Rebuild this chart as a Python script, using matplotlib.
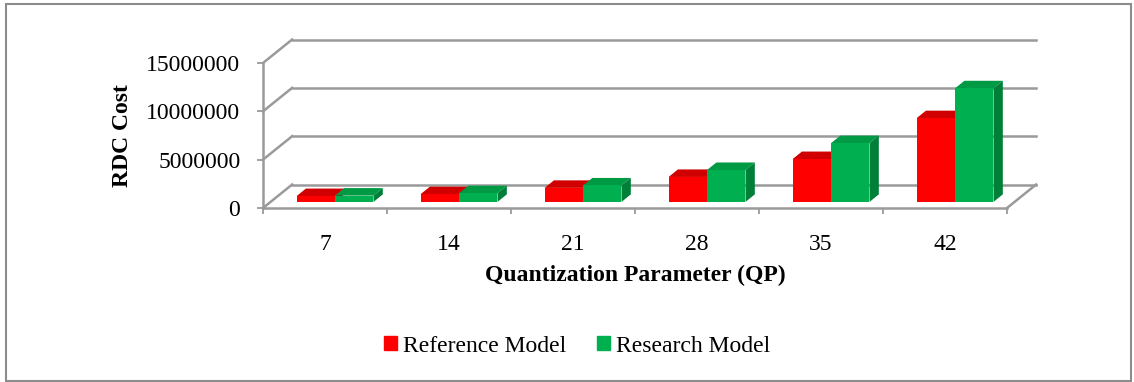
"""RDC cost per QP, drawn as an Excel-style 3D clustered column chart"""

import matplotlib.pyplot as plt
from matplotlib.patches import Patch, Polygon, Rectangle

plt.rcParams["font.family"] = ["Liberation Serif", "DejaVu Serif"]

qp_labels = ["7", "14", "21", "28", "35", "42"]
reference_model = [0.60e6, 0.80e6, 1.45e6, 2.58e6, 4.43e6, 8.66e6]
research_model = [0.65e6, 0.90e6, 1.70e6, 3.30e6, 6.08e6, 11.75e6]
y_ticks = [0, 5000000, 10000000, 15000000]

# oblique depth of the floor, in category units / value units
DX = 0.235
DY = 2.43e6
# bars sit between these fractions of the floor depth
F0, F1 = 0.26, 0.58
BAR_W = 0.31
PAIR_CENTER = 0.52

GRID = "#9a9a9a"
colors = {
    "front": ["#ff0000", "#00b050"],
    "top": ["#d00000", "#009a45"],
    "side": ["#b00000", "#007f38"],
}


def proj(x, v, f):
    """oblique projection of a point at depth fraction f"""
    return (x + f * DX, v + f * DY)


fig = plt.figure(figsize=(11.34, 3.82), dpi=100)
ax = fig.add_axes([0, 0, 1, 1])
# map data so the front floor edge runs 0..6 and the value axis 0..15M
ax.set_xlim(-263 / 124, (1134 - 263) / 124)
ax.set_ylim((208 - 382) / 9.667e-6, 208 / 9.667e-6)

# back wall gridlines and side wall diagonals
for v in y_ticks:
    bx, by = proj(0, v, 1)
    ex, ey = proj(6, v, 1)
    ax.plot([bx, ex], [by, ey], color=GRID, lw=1.8, zorder=1)
    ax.plot([0, bx], [v, by], color=GRID, lw=1.8, zorder=1)
# right edge of the floor
rx, ry = proj(6, 0, 1)
ax.plot([6, rx], [0, ry], color=GRID, lw=1.8, zorder=1)

# columns: top, side, then front face for each series
for s, vals in enumerate([reference_model, research_model]):
    lefts = [i + PAIR_CENTER - BAR_W + s * BAR_W for i in range(len(vals))]
    for x0, val in zip(lefts, vals):
        x1 = x0 + BAR_W
        top = [proj(x0, val, F0), proj(x1, val, F0), proj(x1, val, F1), proj(x0, val, F1)]
        side = [proj(x1, 0, F0), proj(x1, val, F0), proj(x1, val, F1), proj(x1, 0, F1)]
        ax.add_patch(Polygon(top, closed=True, facecolor=colors["top"][s],
                             edgecolor="none", zorder=3 + s))
        ax.add_patch(Polygon(side, closed=True, facecolor=colors["side"][s],
                             edgecolor="none", zorder=3 + s))
    ax.bar([x + F0 * DX for x in lefts], vals, width=BAR_W, bottom=F0 * DY,
           align="edge", color=colors["front"][s], zorder=3.5 + s)

# front axes
for side in ["top", "right"]:
    ax.spines[side].set_visible(False)
ax.spines["left"].set_position(("data", 0))
ax.spines["left"].set_bounds(0, 15e6)
ax.spines["bottom"].set_position(("data", 0))
ax.spines["bottom"].set_bounds(0, 6)
for side in ["left", "bottom"]:
    ax.spines[side].set_color(GRID)
    ax.spines[side].set_linewidth(1.8)

ax.set_yticks(y_ticks)
ax.set_yticklabels([str(t) for t in y_ticks])
ax.tick_params(axis="y", length=4.3, width=1.3, color=GRID, pad=12, labelsize=17)
ax.set_xticks(range(7))
ax.set_xticklabels([])
ax.set_xticks([i + 0.5 for i in range(6)], minor=True)
ax.set_xticklabels(qp_labels, minor=True)
ax.tick_params(axis="x", which="major", length=4.3, width=1.3, color=GRID, direction="out")
ax.tick_params(axis="x", which="minor", length=0, pad=19, labelsize=17)

fig.text(635 / 1134, 1 - 275 / 382, "Quantization Parameter (QP)", ha="center",
         va="center", fontsize=17, fontweight="bold")
fig.text(123 / 1134, 1 - 136 / 382, "RDC Cost", ha="center", va="center",
         rotation=90, fontsize=17, fontweight="bold")

handles = [Patch(color=colors["front"][0], label="Reference Model"),
           Patch(color=colors["front"][1], label="Research Model")]
fig.legend(handles=handles, loc="center", bbox_to_anchor=(577 / 1134, 1 - 346 / 382),
           ncol=2, frameon=False, fontsize=17, handlelength=0.55, handleheight=0.55,
           handletextpad=0.25, columnspacing=1.3)

# chart area border
fig.patches.append(Rectangle((6 / 1134, 1.5 / 382), 1125 / 1134, 377 / 382,
                             transform=fig.transFigure, fill=False,
                             edgecolor="#8c8c8c", lw=1.5))

fig.savefig("out.png", dpi=100)
